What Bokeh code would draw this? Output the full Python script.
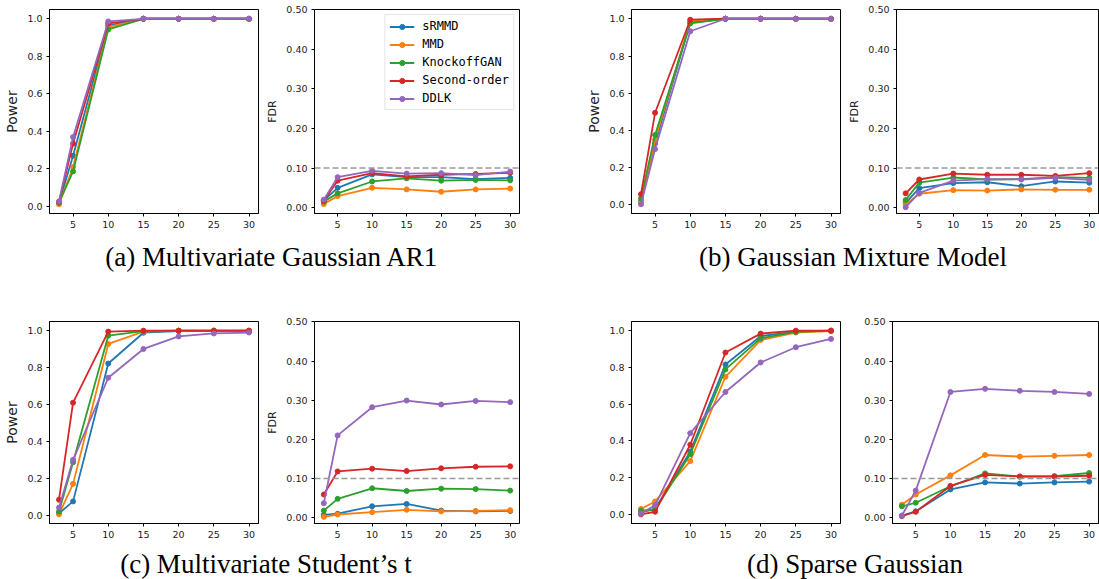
from bokeh.plotting import figure
from bokeh.layouts import column, row
from bokeh.models import Range1d, FixedTicker, Span, Legend, LegendItem, PrintfTickFormatter
from bokeh.core.properties import value
from bokeh.embed import file_html
from bokeh.resources import INLINE

# ---------------- data ----------------
x_vals = [3, 5, 10, 15, 20, 25, 30]
x_ticks = [5, 10, 15, 20, 25, 30]
methods = ["sRMMD", "MMD", "KnockoffGAN", "Second-order", "DDLK"]
colors = ["#1f77b4", "#ff7f0e", "#2ca02c", "#d62728", "#9467bd"]
power_ticks = [0.0, 0.2, 0.4, 0.6, 0.8, 1.0]
fdr_ticks = [0.0, 0.1, 0.2, 0.3, 0.4, 0.5]
fdr_target = 0.1
captions = ["(a) Multivariate Gaussian AR1", "(b) Gaussian Mixture Model",
            "(c) Multivariate Student\u2019s t", "(d) Sparse Gaussian"]

# rows in method order: sRMMD, MMD, KnockoffGAN, Second-order, DDLK
power_ar1 = [
    [0.020, 0.270, 0.965, 1.0, 1.0, 1.0, 1.0],
    [0.012, 0.210, 0.955, 1.0, 1.0, 1.0, 1.0],
    [0.020, 0.187, 0.943, 1.0, 1.0, 1.0, 1.0],
    [0.025, 0.335, 0.975, 1.0, 1.0, 1.0, 1.0],
    [0.027, 0.370, 0.986, 1.0, 1.0, 1.0, 1.0],
]
fdr_ar1 = [
    [0.018, 0.050, 0.084, 0.077, 0.077, 0.072, 0.075],
    [0.009, 0.029, 0.050, 0.046, 0.040, 0.046, 0.048],
    [0.015, 0.036, 0.066, 0.074, 0.068, 0.070, 0.069],
    [0.017, 0.068, 0.087, 0.079, 0.083, 0.085, 0.088],
    [0.020, 0.077, 0.093, 0.086, 0.087, 0.082, 0.091],
]
power_gmm = [
    [0.020, 0.330, 0.980, 1.0, 1.0, 1.0, 1.0],
    [0.015, 0.350, 0.990, 1.0, 1.0, 1.0, 1.0],
    [0.036, 0.376, 0.975, 1.0, 1.0, 1.0, 1.0],
    [0.058, 0.495, 0.995, 1.0, 1.0, 1.0, 1.0],
    [0.004, 0.300, 0.933, 1.0, 1.0, 1.0, 1.0],
]
fdr_gmm = [
    [0.012, 0.049, 0.062, 0.064, 0.054, 0.066, 0.063],
    [0.008, 0.035, 0.044, 0.043, 0.046, 0.045, 0.045],
    [0.019, 0.063, 0.076, 0.071, 0.072, 0.077, 0.075],
    [0.036, 0.071, 0.086, 0.083, 0.083, 0.080, 0.087],
    [0.001, 0.037, 0.068, 0.072, 0.071, 0.075, 0.070],
]
power_t = [
    [0.010, 0.075, 0.822, 0.989, 0.998, 0.998, 0.999],
    [0.005, 0.170, 0.928, 0.995, 1.0, 1.0, 1.0],
    [0.020, 0.287, 0.973, 0.998, 1.0, 1.0, 1.0],
    [0.084, 0.610, 0.995, 1.0, 1.0, 1.0, 1.0],
    [0.041, 0.300, 0.745, 0.901, 0.969, 0.985, 0.990],
]
fdr_t = [
    [0.007, 0.010, 0.029, 0.035, 0.018, 0.016, 0.017],
    [0.002, 0.008, 0.014, 0.020, 0.016, 0.017, 0.019],
    [0.018, 0.048, 0.075, 0.068, 0.074, 0.073, 0.069],
    [0.059, 0.118, 0.125, 0.119, 0.126, 0.130, 0.131],
    [0.037, 0.210, 0.282, 0.299, 0.289, 0.298, 0.295],
]
power_sparse = [
    [0.010, 0.030, 0.341, 0.816, 0.970, 0.995, 1.0],
    [0.029, 0.070, 0.290, 0.749, 0.949, 0.990, 0.998],
    [0.020, 0.025, 0.327, 0.789, 0.958, 0.993, 1.0],
    [0.000, 0.014, 0.379, 0.881, 0.984, 1.0, 1.0],
    [0.005, 0.049, 0.442, 0.666, 0.827, 0.910, 0.955],
]
fdr_sparse = [
    [0.005, 0.016, 0.072, 0.090, 0.087, 0.090, 0.092],
    [0.033, 0.059, 0.108, 0.160, 0.156, 0.158, 0.160],
    [0.029, 0.038, 0.080, 0.113, 0.105, 0.106, 0.114],
    [0.004, 0.015, 0.081, 0.109, 0.105, 0.105, 0.107],
    [0.005, 0.069, 0.321, 0.329, 0.324, 0.321, 0.316],
]

TICK_FONT = "DejaVu Sans"
TEXT_COLOR = "#222222"


def data_range(series):
    lo = min(min(s) for s in series)
    hi = max(max(s) for s in series)
    pad = 0.05 * (hi - lo)
    return Range1d(lo - pad, hi + pad)


def panel(series, kind, width, height, bl, br, bt, bb, ylabel=None, legend=False):
    xpad = 0.05 * (max(x_vals) - min(x_vals))
    if kind == "power":
        yr = data_range(series)
    else:
        yr = Range1d(-0.015, 0.501)
    p = figure(width=width, height=height, output_backend="svg", toolbar_location=None,
               tools="", title=None,
               x_range=Range1d(min(x_vals) - xpad, max(x_vals) + xpad), y_range=yr,
               min_border_left=bl, min_border_right=br, min_border_top=bt, min_border_bottom=bb)
    p.xgrid.visible = False
    p.ygrid.visible = False
    p.outline_line_color = "black"
    p.outline_line_width = 1
    p.background_fill_color = "white"
    p.border_fill_color = "white"

    p.xaxis.ticker = FixedTicker(ticks=x_ticks)
    if kind == "power":
        p.yaxis.ticker = FixedTicker(ticks=power_ticks)
        p.yaxis.formatter = PrintfTickFormatter(format="%.1f")
    else:
        p.yaxis.ticker = FixedTicker(ticks=fdr_ticks)
        p.yaxis.formatter = PrintfTickFormatter(format="%.2f")
    for ax in p.axis:
        ax.major_label_text_font = TICK_FONT
        ax.major_label_text_font_size = "9.5px"
        ax.major_label_text_color = TEXT_COLOR
        ax.major_tick_out = 3
        ax.major_tick_in = 0
        ax.minor_tick_out = 0
        ax.minor_tick_in = 0
        ax.major_label_standoff = 4
        ax.axis_line_color = "black"
        ax.major_tick_line_color = "black"
    if ylabel:
        p.yaxis.axis_label = ylabel
        p.yaxis.axis_label_text_font = TICK_FONT
        p.yaxis.axis_label_text_font_style = "normal"
        p.yaxis.axis_label_text_color = TEXT_COLOR
        p.yaxis.axis_label_text_font_size = "14px" if kind == "power" else "11px"
        p.yaxis.axis_label_standoff = 4

    if kind == "fdr":
        p.add_layout(Span(location=fdr_target, dimension="width", line_color="#999999",
                          line_dash="6 3", line_width=1.5))

    items = []
    for name, col, ys in zip(methods, colors, series):
        l = p.line(x_vals, ys, line_color=col, line_width=1.8)
        s = p.scatter(x_vals, ys, size=5, fill_color=col, line_color=col)
        items.append(LegendItem(label=name, renderers=[l, s]))

    if legend:
        lg = Legend(items=items, location="top_right",
                    label_text_font="DejaVu Sans Mono", label_text_font_size="12px",
                    label_text_color="black",
                    glyph_width=25, glyph_height=13, label_height=13,
                    spacing=4, padding=4, label_standoff=8, margin=5,
                    border_line_color="#cccccc", border_line_width=1,
                    background_fill_color="white", background_fill_alpha=0.85)
        p.add_layout(lg)
    return p


def caption_strip(top, bottom, xs, ys, texts):
    c = figure(width=1099, height=bottom - top, output_backend="svg", toolbar_location=None,
               tools="", title=None, x_axis_type=None, y_axis_type=None,
               x_range=Range1d(0, 1099), y_range=Range1d(bottom, top),
               min_border_left=0, min_border_right=0, min_border_top=0, min_border_bottom=0)
    c.outline_line_color = None
    c.xgrid.visible = False
    c.ygrid.visible = False
    c.text(x=xs, y=ys, text=texts, text_align="center", text_baseline="middle",
           text_font=value("Liberation Serif"), text_font_size="27px", text_color="black")
    return c


# row 1: canvas y 0..235
pa = panel(power_ar1, "power", 263, 235, 49, 5, 9, 22, ylabel="Power")
fa = panel(fdr_ar1, "fdr", 307, 235, 47, 51, 9, 22, ylabel="FDR", legend=True)
pb = panel(power_gmm, "power", 275, 235, 61, 5, 9, 22, ylabel="Power")
fb = panel(fdr_gmm, "fdr", 254, 235, 47, 1, 9, 22, ylabel="FDR")
cap1 = caption_strip(235, 300, [271.5, 852.5], [256, 256], [captions[0], captions[1]])

# row 2: canvas y 300..545
pc = panel(power_t, "power", 263, 245, 49, 5, 21, 22, ylabel="Power")
fc = panel(fdr_t, "fdr", 307, 245, 47, 51, 21, 22, ylabel="FDR")
pd_ = panel(power_sparse, "power", 275, 245, 61, 5, 21, 22)
fd = panel(fdr_sparse, "fdr", 254, 245, 47, 1, 21, 22)
cap2 = caption_strip(545, 579, [265.5, 854.5], [563, 563], [captions[2], captions[3]])

layout = column(row(pa, fa, pb, fb), cap1, row(pc, fc, pd_, fd), cap2)

open("out.html", "w").write(file_html(layout, INLINE))
